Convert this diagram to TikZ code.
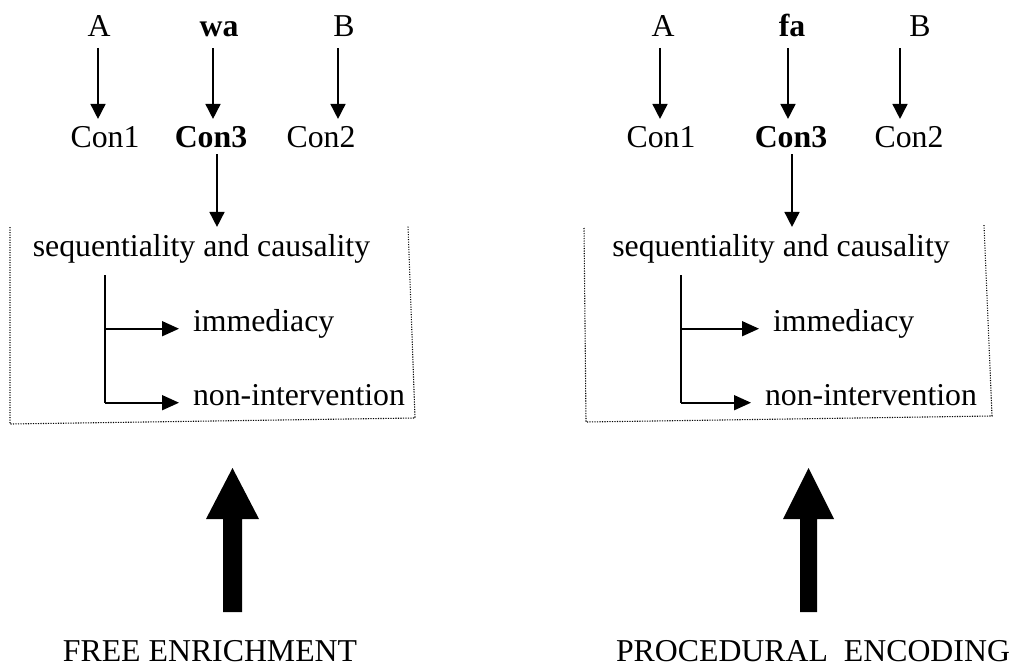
\documentclass[tikz,border=0pt]{standalone}
\usepackage{fontspec}
\setmainfont{Liberation Serif}
\usetikzlibrary{arrows.meta}

\tikzset{
  txt/.style={inner sep=0pt, outer sep=7pt, anchor=base,
              font=\fontsize{31.8}{38}\selectfont},
  txtl/.style={txt, anchor=base west},
  caption/.style={txt, outer sep=0pt},
  arr/.style={line width=1.6pt, -{Triangle[width=15pt,length=15pt]}},
  branch/.style={line width=1.6pt, -{Triangle[width=15pt,length=17pt]}, shorten >=7pt},
  frame/.style={line width=1.1pt, dash pattern=on 1.1pt off 1.4pt},
  bigarrow/.style={fill=black, draw=none}
}

\begin{document}
\begin{tikzpicture}[x=1pt, y=-1pt]
\useasboundingbox (0,0) rectangle (1014,666);

% ---------- left panel: free enrichment ----------
\node[txt] (lA)  at (99,37)  {A};
\node[txt] (lwa) at (219,37) {\bfseries wa};
\node[txt] (lB)  at (344,37) {B};
\node[txt] (lC1) at (105,147) {Con1};
\node[txt] (lC3) at (211,147) {\bfseries Con3};
\node[txt] (lC2) at (321,147) {Con2};
\node[txt] (lseq) at (201.5,256) {sequentiality and causality};
\node[txtl] (limm) at (186,331) {immediacy};
\node[txtl] (lnon) at (186,405) {non-intervention};
\node[caption] (lfree) at (210,661) {FREE ENRICHMENT};

\coordinate (lxA) at (98,0);
\coordinate (lxw) at (213,0);
\coordinate (lxB) at (338,0);
\coordinate (lxC) at (217,0);
\coordinate (ltrunk) at (105,275);

\draw[arr] ([yshift=-4pt]lA.south -| lxA) -- (lC1.north -| lxA);
\draw[arr] ([yshift=-4pt]lwa.south -| lxw) -- (lC3.north -| lxw);
\draw[arr] ([yshift=-4pt]lB.south -| lxB) -- (lC2.north -| lxB);
\draw[arr] (lC3.south -| lxC) -- (lseq.north -| lxC);

\draw[line width=1.6pt] (ltrunk) -- (ltrunk |- lnon.mid west);
\draw[branch] (ltrunk |- limm.mid west) -- (limm.mid west);
\draw[branch] (ltrunk |- lnon.mid west) -- (lnon.mid west);

\draw[frame] (10,227) -- (10,424) -- (415,418) -- (408,226);

\fill[bigarrow] (223,612) -- (223,519) -- (206,519) -- (232.5,468)
  -- (259,519) -- (242,519) -- (242,612) -- cycle;

% ---------- right panel: procedural encoding ----------
\node[txt] (rA)  at (663,37) {A};
\node[txt] (rfa) at (792,37) {\bfseries fa};
\node[txt] (rB)  at (920,37) {B};
\node[txt] (rC1) at (661,147) {Con1};
\node[txt] (rC3) at (791,147) {\bfseries Con3};
\node[txt] (rC2) at (909,147) {Con2};
\node[txt] (rseq) at (781,256) {sequentiality and causality};
\node[txtl] (rimm) at (766,331) {immediacy};
\node[txtl] (rnon) at (758,405) {non-intervention};
\node[caption] (rproc) at (813,661) {PROCEDURAL\ \ ENCODING};

\coordinate (rxA) at (660,0);
\coordinate (rxf) at (788,0);
\coordinate (rxB) at (900,0);
\coordinate (rxC) at (792,0);
\coordinate (rtrunk) at (681,275);

\draw[arr] ([yshift=-4pt]rA.south -| rxA) -- (rC1.north -| rxA);
\draw[arr] ([yshift=-4pt]rfa.south -| rxf) -- (rC3.north -| rxf);
\draw[arr] ([yshift=-4pt]rB.south -| rxB) -- (rC2.north -| rxB);
\draw[arr] (rC3.south -| rxC) -- (rseq.north -| rxC);

\draw[line width=1.6pt] (rtrunk) -- (rtrunk |- rnon.mid west);
\draw[branch] (rtrunk |- rimm.mid west) -- (rimm.mid west);
\draw[branch] (rtrunk |- rnon.mid west) -- (rnon.mid west);

\draw[frame] (584,228) -- (586,422) -- (992,416) -- (984,225);

\fill[bigarrow] (800,612) -- (800,519) -- (783,519) -- (808.5,468)
  -- (834,519) -- (817,519) -- (817,612) -- cycle;
\end{tikzpicture}
\end{document}
